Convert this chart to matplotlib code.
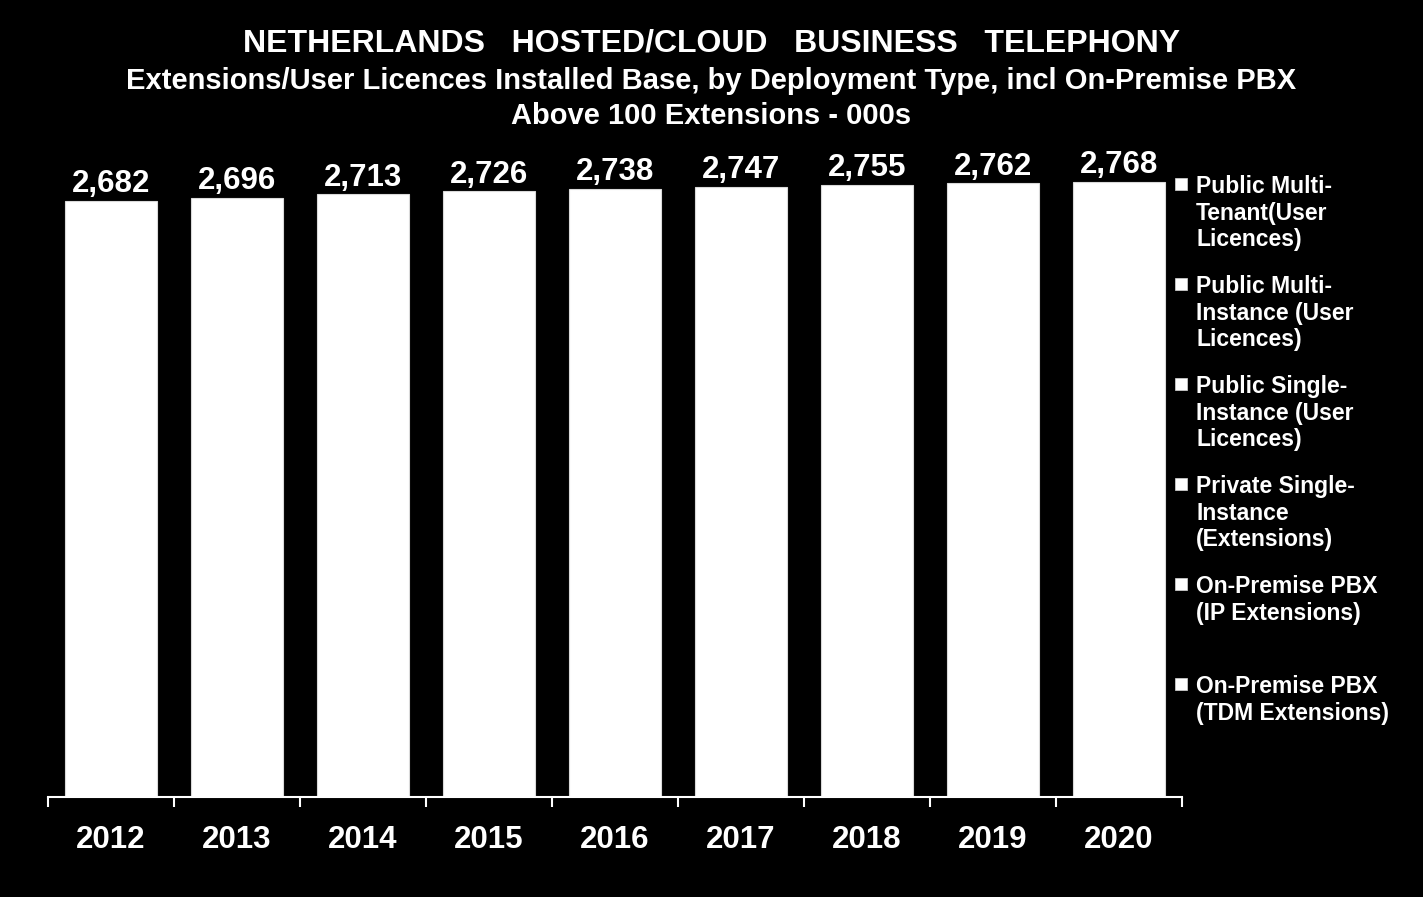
import matplotlib.pyplot as plt
import matplotlib.patches as mpatches
import numpy as np

plt.rcParams['font.family'] = ['Liberation Sans', 'DejaVu Sans']

years = ['2012', '2013', '2014', '2015', '2016', '2017', '2018', '2019', '2020']
totals = [2682, 2696, 2713, 2726, 2738, 2747, 2755, 2762, 2768]
series = ['Public Multi-\nTenant(User\nLicences)',
          'Public Multi-\nInstance (User\nLicences)',
          'Public Single-\nInstance (User\nLicences)',
          'Private Single-\nInstance\n(Extensions)',
          'On-Premise PBX\n(IP Extensions)',
          'On-Premise PBX\n(TDM Extensions)']

W, H = 1423, 897
fig = plt.figure(figsize=(W / 100, H / 100), dpi=100, facecolor='black')
ax = fig.add_axes([48 / W, 100 / H, 1134 / W, 622 / H], facecolor='black')

x = np.arange(len(years))
bars = ax.bar(x, totals, width=0.73, color='white', edgecolor='#d9d9d9', linewidth=0.8)
for xi, v in zip(x, totals):
    ax.text(xi, v + 8, f'{v:,}', ha='center', va='bottom', color='white',
            fontsize=22.5, fontweight='bold')

ax.set_xlim(-0.5, len(years) - 0.5)
ax.set_ylim(0, 2800)
ax.set_yticks([])
for s in ['top', 'right', 'left']:
    ax.spines[s].set_visible(False)
ax.spines['bottom'].set_color('white')
ax.spines['bottom'].set_linewidth(1.5)
ax.set_xticks(x)
ax.set_xticklabels(years, color='white', fontsize=22.5, fontweight='bold')
ax.tick_params(axis='x', which='major', length=0, pad=20)
ax.set_xticks(np.arange(-0.5, len(years)), minor=True)
ax.tick_params(axis='x', which='minor', length=7, width=1.5, color='white', direction='out')

# titles
fig.text(0.5, 1 - 44 / H, 'NETHERLANDS   HOSTED/CLOUD   BUSINESS   TELEPHONY', ha='center', va='center',
         color='white', fontsize=23, fontweight='bold')
fig.text(0.5, 1 - 81 / H, 'Extensions/User Licences Installed Base, by Deployment Type, incl On-Premise PBX',
         ha='center', va='center', color='white', fontsize=21, fontweight='bold')
fig.text(0.5, 1 - 116 / H, 'Above 100 Extensions - 000s', ha='center', va='center',
         color='white', fontsize=21, fontweight='bold')

# legend
for i, lab in enumerate(series):
    ytop = 175 + i * 100
    fig.patches.append(mpatches.Rectangle((1175 / W, 1 - (ytop + 15) / H), 12 / W, 12 / H,
                                          transform=fig.transFigure, facecolor='white',
                                          edgecolor='#d9d9d9', linewidth=0.5))
    fig.text(1196 / W, 1 - ytop / H, lab, ha='left', va='top', color='white',
             fontsize=16.5, fontweight='bold', linespacing=1.2)

fig.savefig('out.png', dpi=100, facecolor='black')
